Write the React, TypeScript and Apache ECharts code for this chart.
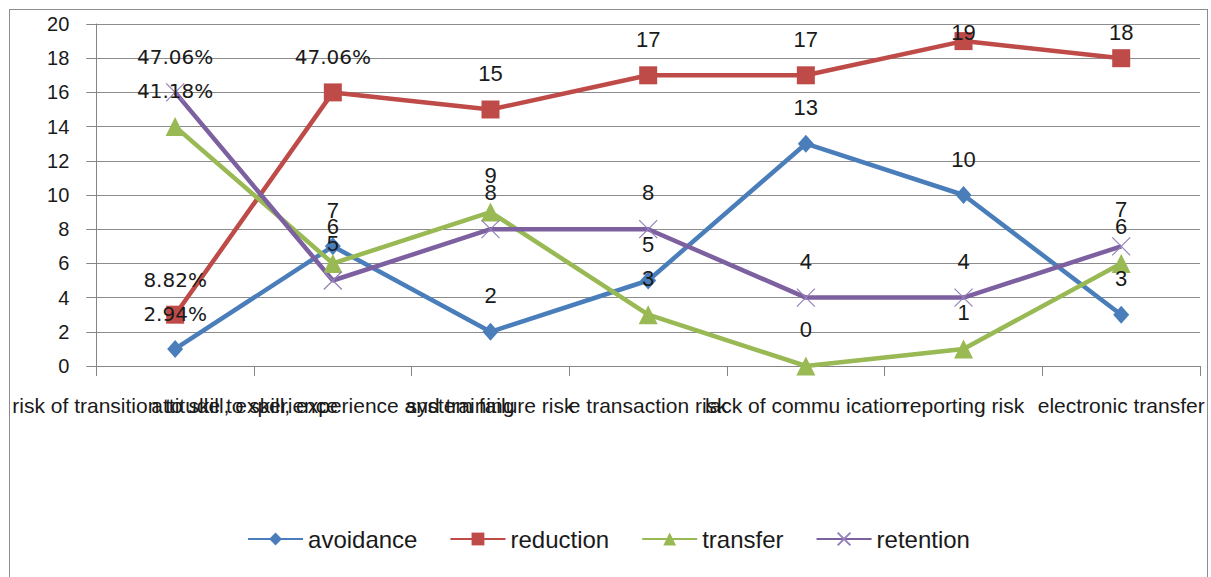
import React, { useEffect, useRef } from "react";
import * as echarts from "echarts";

const categories = [
  "risk of transition to skill, experience",
  "attitude to skill, experience and training",
  "system failure risk",
  "e transaction risk",
  "lack of commu ication",
  "reporting risk",
  "electronic transfer",
];
const seriesNames = ["avoidance", "reduction", "transfer", "retention"];
const avoidance = [1, 7, 2, 5, 13, 10, 3];
const reduction = [3, 16, 15, 17, 17, 19, 18];
const transfer = [14, 6, 9, 3, 0, 1, 6];
const retention = [16, 5, 8, 8, 4, 4, 7];
// cells whose data label shows share of column total: [seriesIndex, dataIndex]
const percentCells = [
  [0, 0],
  [1, 0],
  [2, 0],
  [3, 0],
  [1, 1],
];
const yTicks = { min: 0, max: 20, interval: 2 };

const colors = ["#4A7EBB", "#BE4B48", "#98B954", "#7D60A0"];
const symbols = ["diamond", "rect", "triangle", "path://M0,0L10,10M10,0L0,10"];
const symbolSizes = [[16, 18], 18, 19, 18];

export default function App() {
  const ref = useRef<HTMLDivElement>(null);
  useEffect(() => {
    document.body.style.margin = "0";
    if (!ref.current) return;
    const chart = echarts.init(ref.current, undefined, { renderer: "svg" });
    const all = [avoidance, reduction, transfer, retention];
    const totals = categories.map((_, i) => all.reduce((s, a) => s + a[i], 0));
    const isPct = (si: number, di: number) =>
      percentCells.some((c) => c[0] === si && c[1] === di);

    const series = all.map((vals, si) => ({
      name: seriesNames[si],
      type: "line",
      data: vals,
      color: colors[si],
      symbol: symbols[si],
      symbolSize: symbolSizes[si],
      showAllSymbol: true,
      lineStyle: { width: 4.5, color: colors[si] },
      itemStyle:
        si === 3
          ? { color: colors[si], borderColor: "#9380BC", borderWidth: 1.2 }
          : { color: colors[si] },
      label: {
        show: true,
        position: "top",
        distance: 16,
        formatter: (p: any) => {
          if (isPct(si, p.dataIndex)) {
            const pct = ((p.value / totals[p.dataIndex]) * 100).toFixed(2);
            return "{p|" + pct + "%}";
          }
          return "{n|" + p.value + "}";
        },
        rich: {
          p: { fontFamily: "DejaVu Sans", fontSize: 20, color: "#1a1a1a" },
          n: { fontFamily: "Liberation Sans", fontSize: 22, color: "#1a1a1a" },
        },
      },
      labelLayout: (params: any) => {
        const r = params.labelRect;
        if (r && r.y < 11) return { dy: 11 - r.y };
        return {};
      },
      emphasis: { disabled: true },
    }));

    chart.setOption({
      animation: false,
      textStyle: { fontFamily: "Liberation Sans" },
      grid: { left: 82, right: 2, top: 14, bottom: 214, containLabel: false },
      legend: {
        data: seriesNames,
        bottom: 24,
        left: "center",
        itemWidth: 55,
        itemHeight: 16,
        itemGap: 32,
        textStyle: { fontSize: 24, color: "#1a1a1a", fontFamily: "Liberation Sans" },
      },
      xAxis: {
        type: "category",
        data: categories,
        boundaryGap: true,
        axisLine: { show: true, lineStyle: { color: "#868686", width: 1 } },
        axisTick: { show: true, length: 10, lineStyle: { color: "#868686" } },
        axisLabel: {
          interval: 0,
          margin: 29,
          fontSize: 21,
          color: "#1a1a1a",
          fontFamily: "Liberation Sans",
        },
      },
      yAxis: {
        type: "value",
        min: yTicks.min,
        max: yTicks.max,
        interval: yTicks.interval,
        axisLine: { show: true, lineStyle: { color: "#868686", width: 1 } },
        axisTick: { show: true, length: 10, lineStyle: { color: "#868686" } },
        splitLine: { show: true, lineStyle: { color: "#8c8c8c", width: 1 } },
        axisLabel: {
          margin: 27,
          fontSize: 20,
          color: "#1a1a1a",
          fontFamily: "Liberation Sans",
        },
      },
      series,
    });
    return () => chart.dispose();
  }, []);

  return (
    <div
      style={{
        position: "absolute",
        left: 9,
        top: 9,
        width: 1197,
        height: 570,
        border: "1px solid #8c8c8c",
        background: "#fff",
      }}
    >
      <div ref={ref} style={{ width: 1197, height: 570 }} />
    </div>
  );
}
